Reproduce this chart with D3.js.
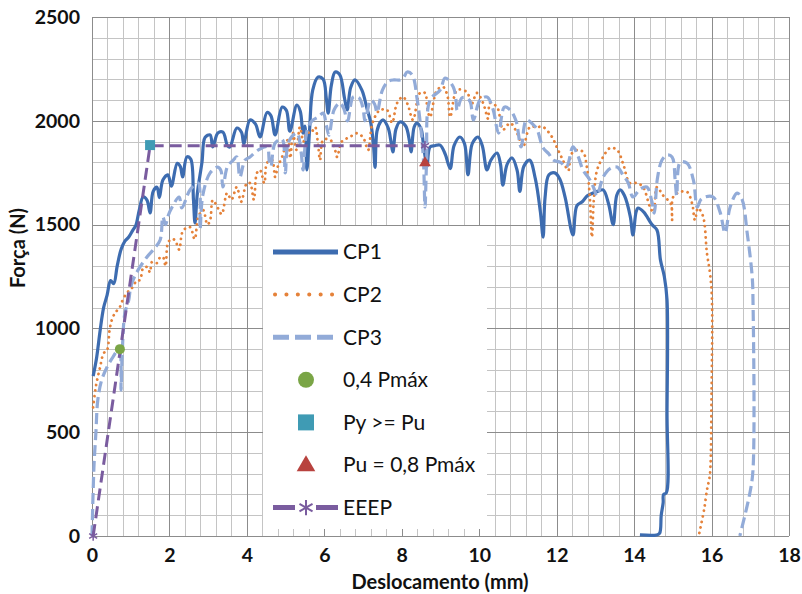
<!DOCTYPE html>
<html>
<head>
<meta charset="utf-8">
<script src="https://cdn.jsdelivr.net/npm/d3@7"></script>
<style>
  body { margin: 0; background: #fff; }
  text { font-family: Lato, "Open Sans", sans-serif; }
</style>
</head>
<body>
<script>
// chart size
var w = 802, h = 594;

// CP1 curve (deslocamento mm, força N)
var cp1 = [
  [0.03,770],[0.12,860],[0.21,990],[0.30,1100],[0.39,1160],[0.48,1230],[0.56,1215],[0.65,1300],
  [0.75,1380],[0.85,1420],[0.95,1440],[1.06,1475],[1.13,1495],[1.22,1570],[1.32,1633],[1.42,1618],
  [1.50,1556],[1.58,1660],[1.68,1680],[1.74,1630],[1.83,1715],[1.96,1740],[2.05,1685],[2.20,1795],
  [2.28,1780],[2.34,1730],[2.45,1826],[2.55,1815],[2.62,1620],[2.66,1508],[2.72,1650],[2.84,1800],
  [2.92,1920],[3.05,1932],[3.12,1874],[3.25,1941],[3.38,1945],[3.50,1880],[3.56,1874],[3.74,1965],
  [3.86,1945],[3.92,1890],[4.08,2004],[4.22,1985],[4.34,1922],[4.52,2040],[4.62,2025],[4.73,1932],
  [4.91,2066],[5.02,2050],[5.11,1950],[5.29,2076],[5.38,2045],[5.45,1941],[5.50,1975],[5.55,1763],
  [5.62,1960],[5.70,2148],[5.84,2211],[5.97,2200],[6.05,2110],[6.10,2037],[6.18,2170],[6.28,2235],
  [6.40,2221],[6.52,2110],[6.59,2052],[6.68,2160],[6.79,2197],[6.97,2148],[7.10,2060],[7.20,1990],
  [7.27,1880],[7.31,1776],[7.36,1950],[7.45,1994],[7.52,2004],[7.65,1965],[7.72,1900],[7.77,1850],
  [7.85,1960],[7.95,1994],[8.10,1975],[8.20,1900],[8.24,1850],[8.32,1970],[8.39,1989],[8.50,1960],
  [8.55,1900],[8.60,1830],[8.65,1780],[8.73,1874],[8.85,1880],[8.99,1883],[9.12,1840],[9.25,1770],
  [9.35,1880],[9.50,1922],[9.62,1890],[9.71,1740],[9.82,1890],[9.97,1922],[10.08,1880],[10.20,1763],
  [10.30,1810],[10.46,1845],[10.55,1790],[10.61,1690],[10.72,1790],[10.85,1821],[10.98,1760],[11.05,1660],
  [11.15,1780],[11.30,1811],[11.45,1720],[11.58,1560],[11.65,1440],[11.70,1630],[11.80,1740],[11.95,1749],
  [12.08,1720],[12.22,1630],[12.42,1450],[12.52,1590],[12.66,1610],[12.80,1640],[12.91,1650],[13.05,1660],
  [13.20,1667],[13.34,1600],[13.46,1500],[13.55,1640],[13.64,1667],[13.75,1640],[13.90,1540],[13.97,1450],
  [14.05,1560],[14.10,1580],[14.25,1560],[14.46,1500],[14.59,1474],[14.68,1330],[14.78,1250],[14.85,1137],
  [14.85,600],[14.83,207],[14.76,200],[14.75,160],[14.70,100],[14.66,14],[14.58,5],[14.15,5]
];

// CP2 curve
var cp2 = [
  [0.03,620],[0.10,720],[0.21,814],[0.30,880],[0.39,896],[0.46,1000],[0.54,1055],[0.62,1080],
  [0.72,1103],[0.80,1140],[0.90,1170],[1.00,1190],[1.06,1200],[1.15,1230],[1.24,1233],[1.32,1290],
  [1.42,1296],[1.50,1270],[1.55,1320],[1.68,1315],[1.75,1340],[1.83,1344],[1.90,1300],[1.96,1411],
  [2.05,1430],[2.14,1426],[2.25,1380],[2.35,1470],[2.53,1488],[2.65,1430],[2.75,1540],[2.87,1570],
  [2.98,1500],[3.05,1520],[3.12,1618],[3.25,1580],[3.35,1550],[3.49,1652],[3.60,1620],[3.74,1681],
  [3.85,1610],[4.00,1700],[4.08,1700],[4.18,1620],[4.26,1749],[4.34,1763],[4.45,1700],[4.52,1797],
  [4.65,1811],[4.73,1729],[4.80,1780],[4.91,1826],[5.06,1908],[5.12,1820],[5.19,1941],[5.28,1860],
  [5.37,1970],[5.46,1900],[5.55,1945],[5.65,1940],[5.76,1970],[5.84,1880],[5.89,1811],[5.97,1908],
  [6.15,1908],[6.25,1880],[6.33,1826],[6.45,1900],[6.66,1922],[6.84,1940],[7.00,1920],[7.13,1859],
  [7.23,1980],[7.36,2037],[7.44,2052],[7.62,2052],[7.75,1990],[7.88,2086],[8.03,2115],[8.15,2080],
  [8.29,2004],[8.47,2134],[8.60,2134],[8.66,2060],[8.73,2018],[8.91,2148],[9.07,2163],[9.18,2120],
  [9.25,2018],[9.43,2148],[9.68,2139],[9.80,2080],[9.94,2134],[10.10,2086],[10.23,2010],[10.28,2086],
  [10.46,2066],[10.55,2000],[10.61,1956],[10.80,1989],[10.98,1940],[11.13,1874],[11.31,1970],[11.49,1970],
  [11.65,1970],[11.88,1922],[12.01,1870],[12.16,1811],[12.30,1760],[12.38,1840],[12.53,1859],[12.68,1850],
  [12.78,1777],[12.86,1618],[12.91,1440],[12.96,1620],[13.04,1760],[13.20,1826],[13.38,1869],[13.56,1860],
  [13.71,1797],[13.89,1700],[14.07,1700],[14.23,1681],[14.41,1585],[14.50,1560],[14.59,1681],[14.75,1640],
  [14.95,1600],[14.98,1522],[15.01,1633],[15.19,1657],[15.37,1657],[15.50,1600],[15.57,1522],[15.65,1580],
  [15.78,1540],[15.88,1363],[15.96,1267],[16.01,1137],[16.00,700],[15.96,300],[15.92,255],[15.88,220],
  [15.81,130],[15.68,10]
];

// CP3 curve
var cp3 = [
  [0.00,0],[0.05,332],[0.10,496],[0.15,655],[0.25,751],[0.39,814],[0.54,862],[0.68,896],
  [0.73,880],[0.75,703],[0.78,880],[0.85,1074],[0.95,1137],[1.00,1200],[1.10,1250],[1.24,1296],
  [1.42,1344],[1.58,1378],[1.76,1426],[1.83,1537],[1.90,1500],[1.96,1540],[2.07,1585],[2.25,1633],
  [2.32,1580],[2.53,1667],[2.74,1700],[2.79,1480],[2.86,1640],[3.05,1749],[3.25,1777],[3.33,1760],
  [3.38,1681],[3.50,1780],[3.65,1811],[3.74,1826],[3.82,1729],[3.95,1810],[4.08,1826],[4.30,1860],
  [4.52,1874],[4.58,1800],[4.62,1780],[4.73,1893],[4.91,1910],[4.99,1749],[5.08,1900],[5.29,1941],
  [5.40,1850],[5.45,1763],[5.55,1950],[5.68,2000],[5.84,2018],[5.97,2037],[6.05,1980],[6.12,1930],
  [6.25,2052],[6.40,2086],[6.50,2060],[6.60,2000],[6.75,2115],[6.90,2110],[7.00,2060],[7.05,2000],
  [7.20,2100],[7.30,2080],[7.36,2040],[7.50,2148],[7.65,2190],[7.80,2197],[7.95,2197],[8.05,2210],
  [8.14,2235],[8.27,2221],[8.40,2100],[8.50,1950],[8.56,1811],[8.60,1585],[8.64,1800],[8.73,2100],
  [8.99,2148],[9.12,2206],[9.33,2163],[9.40,2100],[9.43,2050],[9.55,2110],[9.68,2110],[9.77,2090],
  [9.85,2004],[10.02,2100],[10.20,2115],[10.35,2060],[10.50,1941],[10.65,2066],[10.80,2052],[10.95,2000],
  [11.08,1874],[11.22,2004],[11.40,1980],[11.49,1960],[11.65,1870],[11.80,1840],[11.91,1811],[12.10,1800],
  [12.25,1777],[12.42,1874],[12.55,1830],[12.68,1763],[12.86,1715],[12.95,1680],[13.04,1640],[13.20,1729],
  [13.38,1770],[13.56,1777],[13.71,1740],[13.85,1700],[13.97,1633],[14.15,1670],[14.33,1681],[14.46,1610],
  [14.52,1555],[14.60,1720],[14.72,1811],[14.85,1835],[14.98,1826],[15.06,1715],[15.10,1640],[15.19,1800],
  [15.37,1795],[15.53,1715],[15.63,1585],[15.72,1620],[15.83,1633],[16.04,1633],[16.22,1560],[16.35,1460],
  [16.48,1585],[16.66,1652],[16.79,1620],[16.92,1460],[17.05,1248],[17.07,1137],[17.07,318],[16.99,207],
  [16.73,0]
];

// EEEP bilinear curve
var eeep = [[0.03,0],[1.50,1880],[8.60,1880]];

// characteristic points
var p04 = [[0.72,900]];      // 0,4 Pmáx
var pyPu = [[1.50,1883]];    // Py >= Pu
var pu08 = [[8.60,1797]];    // Pu = 0,8 Pmáx

var xTicks = [0,2,4,6,8,10,12,14,16,18];
var yTicks = [0,500,1000,1500,2000,2500];

var legendNames = ["CP1","CP2","CP3","0,4 Pmáx","Py >= Pu","Pu = 0,8 Pmáx","EEEP"];

var cBlue = "#3d6cb0", cOrange = "#e5823a", cLight = "#92abd8",
    cGreen = "#7aa546", cTeal = "#3f9bb4", cRed = "#b8423e", cPurple = "#7a5c9f";

var svg = d3.select("body").append("svg")
    .attr("width", w)
    .attr("height", h);

var x = d3.scaleLinear().domain([0,18]).range([92,789]);
var y = d3.scaleLinear().domain([0,2500]).range([536,17]);

// minor grid
var grid = svg.append("g").attr("class","grid");
grid.selectAll(".vminor")
    .data(d3.range(0,46).map(function(i){ return i*0.4; }))
    .enter().append("line")
    .attr("x1", function(d){ return Math.round(x(d))+0.5; })
    .attr("x2", function(d){ return Math.round(x(d))+0.5; })
    .attr("y1", y(2500)).attr("y2", y(0))
    .style("stroke","#c4c4c4");
grid.selectAll(".hminor")
    .data(d3.range(0,26).map(function(i){ return i*100; }))
    .enter().append("line")
    .attr("y1", function(d){ return Math.round(y(d))+0.5; })
    .attr("y2", function(d){ return Math.round(y(d))+0.5; })
    .attr("x1", x(0)).attr("x2", x(18))
    .style("stroke","#c4c4c4");
// major grid
grid.selectAll(".vmajor")
    .data(xTicks)
    .enter().append("line")
    .attr("x1", function(d){ return Math.round(x(d))+0.5; })
    .attr("x2", function(d){ return Math.round(x(d))+0.5; })
    .attr("y1", y(2500)).attr("y2", y(0))
    .style("stroke","#8c8c8c");
grid.selectAll(".hmajor")
    .data(yTicks)
    .enter().append("line")
    .attr("y1", function(d){ return Math.round(y(d))+0.5; })
    .attr("y2", function(d){ return Math.round(y(d))+0.5; })
    .attr("x1", x(0)).attr("x2", x(18))
    .style("stroke","#8c8c8c");

// axes (labels only)
var xAxis = svg.append("g")
    .attr("transform","translate(0,536)")
    .call(d3.axisBottom(x).tickValues(xTicks).tickSize(0).tickPadding(12).tickFormat(d3.format("d")));
var yAxis = svg.append("g")
    .attr("transform","translate(92,0)")
    .call(d3.axisLeft(y).tickValues(yTicks).tickSize(0).tickPadding(12).tickFormat(d3.format("d")));
svg.selectAll(".domain").remove();
svg.selectAll(".tick text")
    .style("font-family","Lato, sans-serif")
    .style("font-size","19.5px")
    .style("font-weight","bold")
    .style("fill","#111");

// axis titles
svg.append("text")
    .attr("x", 440).attr("y", 589)
    .attr("text-anchor","middle")
    .style("font-size","20px").style("font-weight","bold").style("fill","#111")
    .text("Deslocamento (mm)");
svg.append("text")
    .attr("transform","translate(25,248) rotate(-90)")
    .attr("text-anchor","middle")
    .style("font-size","20px").style("font-weight","bold").style("fill","#111")
    .text("Força (N)");

// curves
var line = d3.line()
    .x(function(d){ return x(d[0]); })
    .y(function(d){ return y(d[1]); })
    .curve(d3.curveCatmullRom.alpha(0.5));

svg.append("path").datum(cp1)
    .attr("d", line)
    .style("fill","none").style("stroke",cBlue).style("stroke-width",3.2)
    .style("stroke-linejoin","round");
svg.append("path").datum(cp2)
    .attr("d", line)
    .style("fill","none").style("stroke",cOrange).style("stroke-width",2.8)
    .style("stroke-dasharray","0.1 5.5").style("stroke-linecap","round");
svg.append("path").datum(cp3)
    .attr("d", line)
    .style("fill","none").style("stroke",cLight).style("stroke-width",3.2)
    .style("stroke-dasharray","11 5");

// EEEP
var eLine = d3.line()
    .x(function(d){ return x(d[0]); })
    .y(function(d){ return y(d[1]); });
svg.append("path").datum(eeep)
    .attr("d", eLine)
    .style("fill","none").style("stroke",cPurple).style("stroke-width",3)
    .style("stroke-dasharray","12 6");
svg.selectAll(".star")
    .data(eeep)
    .enter().append("path")
    .attr("transform", function(d){ return "translate(" + x(d[0]) + "," + y(d[1]) + ")"; })
    .attr("d", d3.symbol().type(d3.symbolAsterisk).size(60))
    .style("fill","none").style("stroke",cPurple).style("stroke-width",1.5);

// point markers
svg.selectAll(".p04").data(p04).enter().append("circle")
    .attr("cx", function(d){ return x(d[0]); })
    .attr("cy", function(d){ return y(d[1]); })
    .attr("r", 5).style("fill",cGreen);
svg.selectAll(".pyPu").data(pyPu).enter().append("rect")
    .attr("x", function(d){ return x(d[0]) - 5; })
    .attr("y", function(d){ return y(d[1]) - 5; })
    .attr("width", 10).attr("height", 10).style("fill",cTeal);
svg.selectAll(".pu08").data(pu08).enter().append("path")
    .attr("transform", function(d){ return "translate(" + x(d[0]) + "," + y(d[1]) + ")"; })
    .attr("d", d3.symbol().type(d3.symbolTriangle).size(60))
    .style("fill",cRed);

// legend
var legend = svg.append("g").attr("class","legend");
legend.append("rect")
    .attr("x", 263).attr("y", 226).attr("width", 224).attr("height", 303)
    .style("fill","#fff");

var ly = function(i){ return 252 + i * 42.6; };

legend.append("line").attr("x1",273).attr("x2",338).attr("y1",ly(0)).attr("y2",ly(0))
    .style("stroke",cBlue).style("stroke-width",5);
legend.append("line").attr("x1",275).attr("x2",333).attr("y1",ly(1)).attr("y2",ly(1))
    .style("stroke",cOrange).style("stroke-width",4)
    .style("stroke-dasharray","0.1 11.3").style("stroke-linecap","round");
legend.append("line").attr("x1",273).attr("x2",338).attr("y1",ly(2)).attr("y2",ly(2))
    .style("stroke",cLight).style("stroke-width",5)
    .style("stroke-dasharray","16 6");
legend.append("circle").attr("cx",306).attr("cy",ly(3)).attr("r",8).style("fill",cGreen);
legend.append("rect").attr("x",298).attr("y",ly(4)-8).attr("width",16).attr("height",16).style("fill",cTeal);
legend.append("path").attr("transform","translate(306," + (ly(5)+1) + ")")
    .attr("d", d3.symbol().type(d3.symbolTriangle).size(150)).style("fill",cRed);
legend.append("line").attr("x1",273).attr("x2",338).attr("y1",ly(6)).attr("y2",ly(6))
    .style("stroke",cPurple).style("stroke-width",5)
    .style("stroke-dasharray","22 21 22");
legend.append("path").attr("transform","translate(306," + ly(6) + ")")
    .attr("d", d3.symbol().type(d3.symbolAsterisk).size(160))
    .style("fill","none").style("stroke",cPurple).style("stroke-width",2);

legend.selectAll(".ltext")
    .data(legendNames)
    .enter().append("text")
    .attr("class","ltext")
    .attr("x", 343)
    .attr("y", function(d,i){ return ly(i); })
    .attr("dy","0.35em")
    .style("font-size","21px")
    .style("fill","#111")
    .text(function(d){ return d; });
</script>
</body>
</html>
